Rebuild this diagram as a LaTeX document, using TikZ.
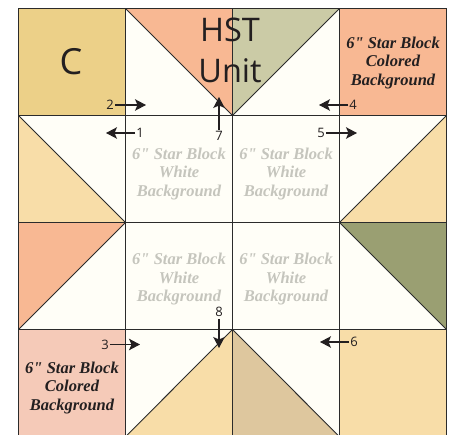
\documentclass[tikz,border=0pt]{standalone}
\usepackage{fontspec}
\setmainfont{Open Sans}
\newfontfamily\quiltfont{Liberation Serif}
\usetikzlibrary{arrows.meta}
\definecolor{inkc}{HTML}{231F20}
\definecolor{gridc}{HTML}{2B2B2B}
\definecolor{creamc}{HTML}{FFFEF7}
\definecolor{goldc}{HTML}{ECD088}
\definecolor{peachc}{HTML}{F8B893}
\definecolor{sagec}{HTML}{CBCBA6}
\definecolor{orangec}{HTML}{F8DDA8}
\definecolor{olivec}{HTML}{9A9F72}
\definecolor{tanc}{HTML}{DEC79E}
\definecolor{pinkc}{HTML}{F5CAB8}
\definecolor{greyc}{HTML}{C5C5BD}
\tikzset{
  patch/.style={draw=gridc,line width=0.9pt,line join=bevel},
  numlabel/.style={text=inkc,font=\fontsize{13}{13}\selectfont,inner sep=0pt},
  flow/.style={draw=inkc,line width=1.1pt,-{Stealth[length=11pt,width=11.5pt,inset=2.5pt]}},
  blocktext/.style={align=center,font=\quiltfont\bfseries\itshape\fontsize{16.5}{18.5}\selectfont,inner sep=0pt},
  bigtext/.style={text=inkc,inner sep=0pt,align=center}
}
\begin{document}
\begin{tikzpicture}[x=1pt,y=-1pt]
\useasboundingbox (0,0) rectangle (452,435);
\fill[white] (0,0) rectangle (452,435);
\begin{scope}
\clip (0,0) rectangle (452,435);
% whole field
\fill[creamc] (18.5,8.5) rectangle (446.5,436.7);
% plain squares
\filldraw[patch,fill=goldc] (18.5,8.5) rectangle (125.5,115.5);
\filldraw[patch,fill=peachc] (339.5,8.5) rectangle (446.5,115.5);
\filldraw[patch,fill=pinkc] (18.5,329.5) rectangle (125.5,436.7);
\filldraw[patch,fill=orangec] (339.5,329.5) rectangle (446.5,436.7);
% half-square triangles
\filldraw[patch,fill=peachc] (125.5,8.5) -- (232.5,8.5) -- (232.5,115.5) -- cycle;
\filldraw[patch,fill=sagec] (232.5,8.5) -- (339.5,8.5) -- (232.5,115.5) -- cycle;
\filldraw[patch,fill=orangec] (18.5,115.5) -- (125.5,222.5) -- (18.5,222.5) -- cycle;
\filldraw[patch,fill=orangec] (446.5,115.5) -- (446.5,222.5) -- (339.5,222.5) -- cycle;
\filldraw[patch,fill=peachc] (18.5,222.5) -- (125.5,222.5) -- (18.5,329.5) -- cycle;
\filldraw[patch,fill=olivec] (339.5,222.5) -- (446.5,222.5) -- (446.5,329.5) -- cycle;
\filldraw[patch,fill=orangec] (232.5,329.5) -- (232.5,436.7) -- (125.5,436.7) -- cycle;
\filldraw[patch,fill=tanc] (232.5,329.5) -- (339.5,436.7) -- (232.5,436.7) -- cycle;
% grid
\draw[patch] (18.5,8.5) rectangle (446.5,436.7);
\draw[patch] (125.5,8.5) -- (125.5,436.7);
\draw[patch] (232.5,8.5) -- (232.5,436.7);
\draw[patch] (339.5,8.5) -- (339.5,436.7);
\draw[patch] (18.5,115.5) -- (446.5,115.5);
\draw[patch] (18.5,222.5) -- (446.5,222.5);
\draw[patch] (18.5,329.5) -- (446.5,329.5);
\end{scope}
% large labels
\node[bigtext,font=\fontsize{36}{36}\selectfont] (c) at (71,62) {C};
\node[bigtext,font=\fontsize{32.5}{41}\selectfont] (hst) at (230,50.5) {HST\\Unit};
% block labels
\node[blocktext,text=inkc] (bc1) at (393,63) {6" Star Block\\Colored\\Background};
\node[blocktext,text=inkc] (bc2) at (72,388) {6" Star Block\\Colored\\Background};
\node[blocktext,text=greyc] (bw1) at (179,174) {6" Star Block\\White\\Background};
\node[blocktext,text=greyc] (bw2) at (286,174) {6" Star Block\\White\\Background};
\node[blocktext,text=greyc] (bw3) at (179,279.5) {6" Star Block\\White\\Background};
\node[blocktext,text=greyc] (bw4) at (286,279.5) {6" Star Block\\White\\Background};
% numbered arrows
\node[numlabel] (n1) at (140,133) {1};
\node[numlabel] (n2) at (110,105) {2};
\node[numlabel] (n3) at (105,344.5) {3};
\node[numlabel] (n4) at (353,105) {4};
\node[numlabel] (n5) at (321,133) {5};
\node[numlabel] (n6) at (354,342) {6};
\node[numlabel] (n7) at (219,135.5) {7};
\node[numlabel] (n8) at (219,312) {8};
\coordinate (t1) at (106,133);
\coordinate (t2) at (146,105);
\coordinate (t3) at (140,344.5);
\coordinate (t4) at (319,105);
\coordinate (t5) at (357,133);
\coordinate (t6) at (320,342);
\coordinate (t7) at (219,97);
\coordinate (t8) at (219,348);
\draw[flow] (n1.west) ++(-1,0) -- (t1);
\draw[flow] (n2.east) ++(1,0) -- (t2);
\draw[flow] (n3.east) ++(1,0) -- (t3);
\draw[flow] (n4.west) ++(-1,0) -- (t4);
\draw[flow] (n5.east) ++(1,0) -- (t5);
\draw[flow] (n6.west) ++(-1,0) -- (t6);
\draw[flow] (n7.north) ++(0,-1) -- (t7);
\draw[flow] (n8.south) ++(0,2) -- (t8);
\end{tikzpicture}
\end{document}
